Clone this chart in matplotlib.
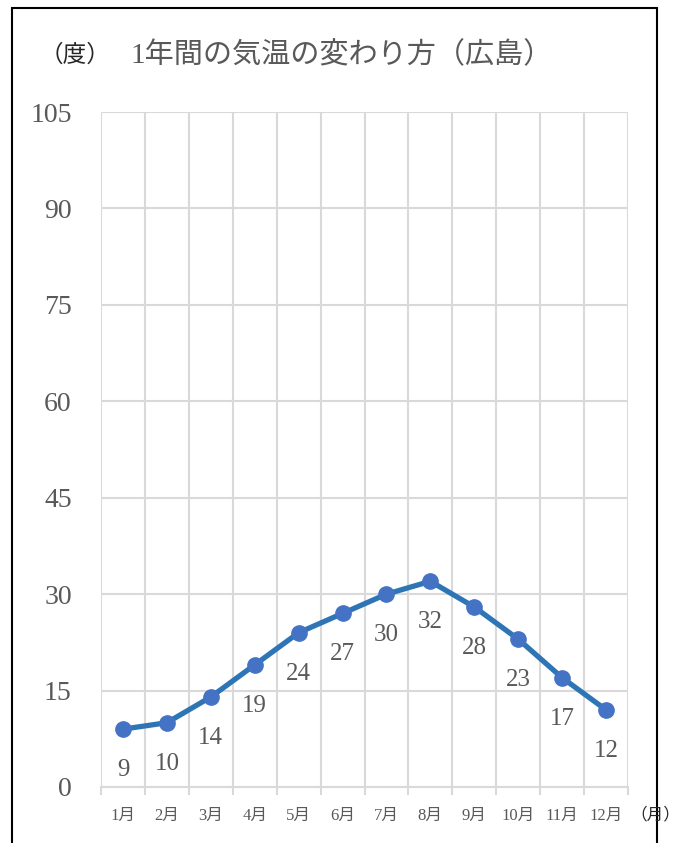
import matplotlib.pyplot as plt
from matplotlib.patches import Rectangle
import numpy as np

# 広島の月別気温
months = ['1月', '2月', '3月', '4月', '5月', '6月', '7月', '8月', '9月', '10月', '11月', '12月']
temps = [9, 10, 14, 19, 24, 27, 30, 32, 28, 23, 17, 12]
yticks = [0, 15, 30, 45, 60, 75, 90, 105]

fonts = ['Liberation Serif', 'Noto Sans CJK JP']
plt.rcParams['font.family'] = fonts
grey = '#595959'
grid_c = '#D9D9D9'

fig = plt.figure(figsize=(6.77, 8.43), dpi=100)
ax = fig.add_axes([101/677, 56/843, 527/677, 675/843])

x = np.arange(1, len(temps) + 1)
ax.plot(x, temps, color='#2E75B6', lw=3.8, marker='o', ms=11,
        mfc='#4472C4', mec='#4472C4', zorder=3)
for xi, t in zip(x, temps):
    ax.annotate(str(t), (xi, t), xytext=(0, -29.5), textcoords='offset points',
                ha='center', va='center', fontsize=18, color=grey)

ax.set_xlim(0.5, len(temps) + 0.5)
ax.set_ylim(0, 105)
ax.set_yticks(yticks)
ax.set_yticklabels([str(v) for v in yticks], fontsize=20, color=grey)
ax.tick_params(axis='y', length=0, pad=21)
ax.set_xticks(x)
ax.set_xticklabels(months, fontsize=12, color=grey)
ax.set_xticks(np.arange(0.5, len(temps) + 1), minor=True)
ax.tick_params(axis='x', which='major', length=0, pad=15)
ax.tick_params(axis='x', which='minor', length=6, width=1.5, color=grid_c)
ax.grid(axis='y', color=grid_c, lw=1.5)
ax.grid(axis='x', which='minor', color=grid_c, lw=1.5)
ax.set_axisbelow(True)
for s in ['top', 'right', 'left']:
    ax.spines[s].set_visible(False)
ax.spines['bottom'].set_color(grid_c)
ax.spines['bottom'].set_linewidth(1.5)

fig.text(40/677, 1 - 55/843, '（度）', fontsize=17, color='#262626', va='center')
fig.text(130/677, 1 - 55/843, '1年間の気温の変わり方（広島）', fontsize=21,
         color=grey, va='center')
fig.text(630/677, 1 - 815/843, '（月）', fontsize=12, color='#262626', va='center')

fig.add_artist(Rectangle((12/677, -0.05), 645/677, 1.05 - 8/843, transform=fig.transFigure,
                         fill=False, ec='black', lw=1.5))

fig.savefig('out.png', dpi=100)
